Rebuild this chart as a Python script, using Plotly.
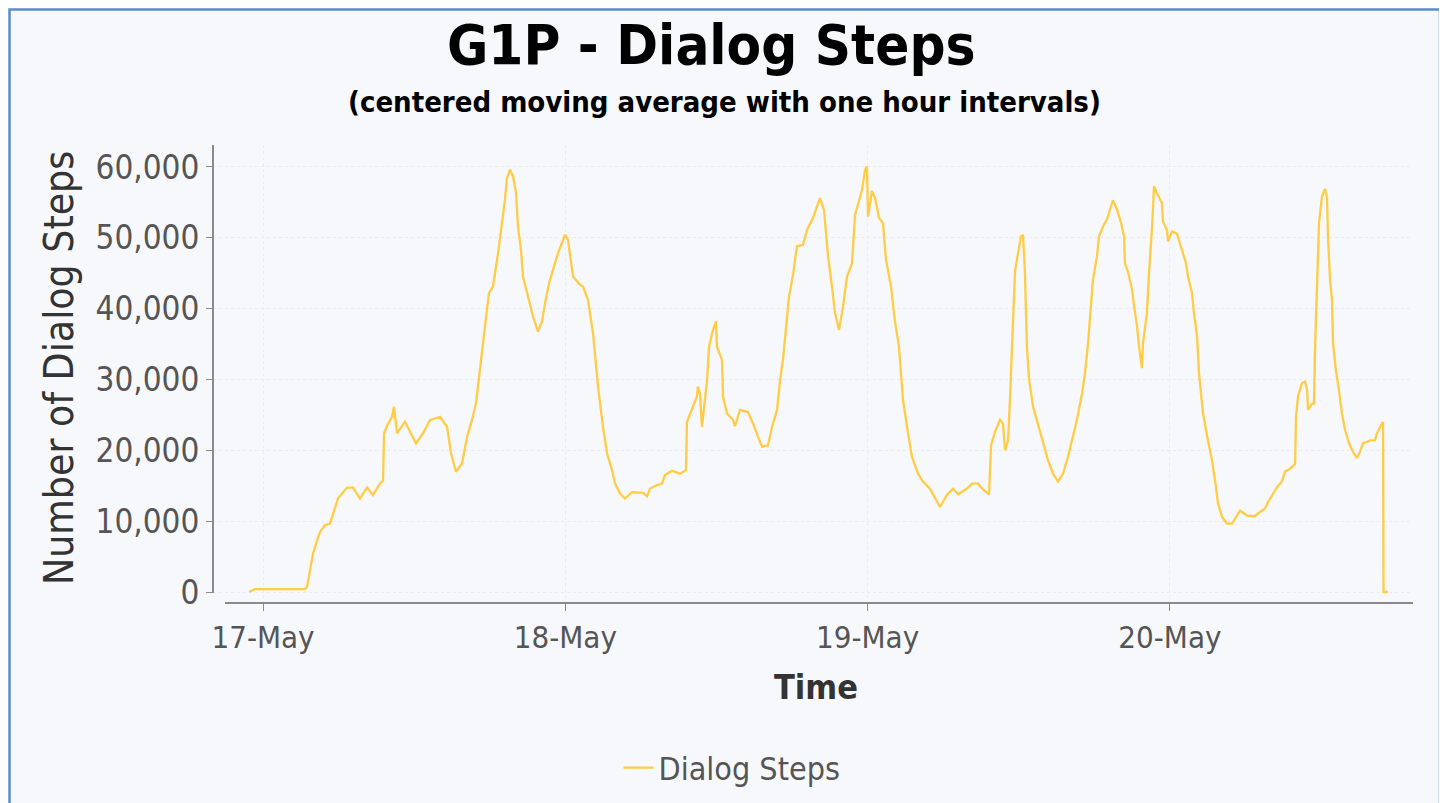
import pandas as pd
import plotly.graph_objects as go

# Hours since 17-May 00:00 and moving-average values of dialog steps
hours = [
    -1.11, -0.64, 3.33, 3.49, 3.73, 3.97, 4.29, 4.53, 4.92, 5.32, 5.95, 6.67, 7.15, 7.70, 8.26, 8.73,
    9.29, 9.53, 9.61, 9.84, 10.24, 10.40, 10.64, 11.27, 12.15, 12.70, 13.26, 14.05, 14.61, 14.93,
    15.32, 15.80, 16.20, 16.59, 16.91, 17.23, 17.62, 17.94, 18.26, 18.66, 18.97, 19.21, 19.37,
    19.61, 19.85, 20.09, 20.24, 20.48, 20.64, 21.04, 21.44, 21.83, 22.15, 22.39, 22.71, 23.02,
    23.42, 23.98, 24.21, 24.61, 25.17, 25.40, 25.80, 26.20, 26.60, 26.99, 27.31, 27.71, 27.95,
    28.34, 28.74, 29.30, 30.17, 30.49, 30.72, 31.28, 31.68, 31.91, 32.47, 33.10, 33.58, 33.66,
    34.05, 34.45, 34.53, 34.69, 34.85, 35.01, 35.25, 35.41, 35.65, 35.96, 36.04, 36.44, 36.52,
    36.84, 37.31, 37.47, 37.87, 38.50, 38.90, 39.30, 39.62, 40.09, 40.41, 40.81, 41.05, 41.28,
    41.52, 41.76, 42.08, 42.39, 42.87, 43.19, 43.66, 44.22, 44.54, 44.86, 45.17, 45.41, 45.73,
    46.05, 46.36, 46.76, 47.00, 47.24, 47.56, 47.79, 47.95, 48.03, 48.35, 48.59, 48.91, 49.22,
    49.46, 49.86, 50.17, 50.49, 50.81, 51.21, 51.52, 52.00, 52.40, 52.95, 53.75, 54.30, 54.78,
    55.18, 55.89, 56.29, 56.76, 57.16, 57.64, 57.80, 58.11, 58.51, 58.75, 58.91, 59.15, 59.30,
    59.54, 59.70, 59.94, 60.18, 60.34, 60.49, 60.65, 60.81, 61.13, 61.53, 61.92, 62.32, 62.72,
    63.12, 63.51, 63.91, 64.31, 64.62, 65.02, 65.26, 65.50, 65.74, 65.89, 66.21, 66.37, 66.69,
    67.01, 67.24, 67.48, 67.80, 68.12, 68.36, 68.43, 68.67, 68.99, 69.23, 69.39, 69.55, 69.78,
    69.86, 70.18, 70.34, 70.58, 70.74, 70.97, 71.37, 71.45, 71.77, 71.85, 72.17, 72.56, 72.80,
    73.04, 73.28, 73.44, 73.75, 73.91, 74.15, 74.31, 74.63, 75.02, 75.34, 75.58, 75.82, 76.14,
    76.53, 76.93, 77.17, 77.57, 78.12, 78.76, 79.15, 79.55, 79.79, 80.19, 80.50, 80.90, 81.14,
    81.54, 81.94, 82.01, 82.17, 82.49, 82.73, 82.89, 82.97, 83.28, 83.44, 83.52, 83.68, 83.84,
    84.07, 84.31, 84.47, 84.55, 84.71, 84.87, 84.95, 85.18, 85.42, 85.66, 85.90, 86.22, 86.53,
    86.85, 87.09, 87.33, 87.65, 87.89, 88.28, 88.44, 88.68, 88.92, 88.96, 89.31,
]
dialog_steps = [
    0, 400, 400, 700, 3060, 5420, 7300, 8480, 9430, 9660, 13200, 14750, 14750, 13200, 14750, 13670,
    15320, 15690, 22390, 23420, 24740, 26160, 22390, 24040, 20970, 22390, 24270, 24740, 23330, 19560,
    16970, 18150, 21920, 24270, 26630, 31810, 37470, 42180, 43120, 47840, 52080, 55380, 58440,
    59620, 58680, 56320, 51610, 48310, 44540, 41710, 38880, 36760, 38180, 40770, 43600, 45480,
    47840, 50430, 49720, 44540, 43360, 43120, 41240, 36530, 28980, 23330, 19600, 17200, 15300,
    13900, 13200, 14100, 14000, 13500, 14600, 15100, 15300, 16500, 17100, 16700, 17200, 24000,
    25700, 27600, 29000, 28000, 23300, 26200, 29900, 34600, 36500, 38200, 34600, 32800, 27600,
    25200, 24300, 23400, 25700, 25400, 23800, 21900, 20500, 20700, 23300, 25700, 29900, 32800,
    37000, 41700, 44800, 48800, 49000, 51100, 52800, 55600, 53900, 47400, 43100, 39400, 37000,
    40300, 44500, 46400, 53200, 54800, 56800, 59600, 60100, 53000, 56600, 55600, 52800, 52100,
    46900, 43100, 38200, 34600, 27100, 22400, 19100, 16700, 15600, 14600, 12000, 13700, 14600,
    13800, 14600, 15300, 15300, 14500, 13800, 20700, 22600, 24300, 23800, 20000, 21400, 27100,
    37000, 45200, 47800, 50200, 50400, 45000, 34600, 30200, 26200, 23800, 21200, 18600, 16700,
    15600, 16700, 19100, 21900, 24300, 28000, 30900, 35100, 40300, 44100, 47400, 50200, 51600,
    52600, 54000, 55300, 54000, 52100, 50200, 46400, 45200, 42700, 39400, 37500, 34600, 31600,
    35100, 39400, 45000, 51400, 57300, 56300, 54900, 52300, 51100, 49500, 50900, 50600, 49200,
    47600, 46400, 44500, 42200, 39400, 36100, 30900, 25200, 21400, 18600, 15800, 12500, 10600,
    9660, 9660, 10400, 11500, 10800, 10700, 11300, 11800, 12700, 13900, 14800, 15600, 17000,
    17400, 18100, 24700, 27600, 29500, 29700, 28500, 25700, 26600, 26600, 34200, 43100, 52100,
    55800, 56900, 55800, 50200, 44100, 41200, 35100, 31300, 28500, 25200, 22900, 21000, 19800,
    18900, 19800, 21000, 21200, 21400, 21400, 22400, 23300, 24000, 0, 0,
]
tick_dates = ["2016-05-17", "2016-05-18", "2016-05-19", "2016-05-20"]
tick_labels = ["17-May", "18-May", "19-May", "20-May"]
y_ticks = [0, 10000, 20000, 30000, 40000, 50000, 60000]

base = pd.Timestamp("2016-05-17 00:00")
times = base + pd.to_timedelta(hours, unit="h")
x_range = [base + pd.Timedelta(hours=-3.97), base + pd.Timedelta(hours=91.3)]

FONT = "DejaVu Sans Condensed, DejaVu Sans"
GREY = "#555555"
AXIS = "#8a8a8a"

# plot area in figure pixels: left 205, top 137, width 1200, height 458
PL, PT, PW, PH = 205, 137, 1200, 458

fig = go.Figure()
fig.add_trace(go.Scatter(
    x=times, y=dialog_steps, mode="lines", name="Dialog Steps",
    line=dict(color="#ffcc44", width=2.3),
))

fig.update_layout(
    width=1447, height=803,
    margin=dict(l=PL, r=1447 - PL - PW, t=PT, b=803 - PT - PH),
    paper_bgcolor="white",
    plot_bgcolor="rgba(0,0,0,0)",
    showlegend=True,
    legend=dict(orientation="h", x=0.4325, xanchor="center", y=-0.36, yanchor="middle",
                font=dict(family=FONT, size=32, color=GREY), bgcolor="rgba(0,0,0,0)"),
    xaxis=dict(
        type="date", range=x_range, tickvals=tick_dates, ticktext=tick_labels,
        showline=False, zeroline=False, ticks="outside", ticklen=7, tickcolor=AXIS,
        showgrid=True, gridcolor="#e9ecf2", griddash="dot", gridwidth=1,
        tickfont=dict(family=FONT, size=31, color=GREY),
    ),
    yaxis=dict(
        range=[-1550, 63100], tickvals=y_ticks, tickformat=",d",
        showline=False, zeroline=False, ticks="outside", ticklen=6, tickcolor=AXIS,
        showgrid=True, gridcolor="#e9ecf2", griddash="dot", gridwidth=1,
        tickfont=dict(family=FONT, size=33, color=GREY),
    ),
    shapes=[
        dict(type="rect", xref="paper", yref="paper",
             x0=(1.5 - PL) / PW, x1=(1432 - PL) / PW,
             y0=-0.45, y1=(PT + PH - 1.5) / PH,
             line=dict(color="#5b8ad0", width=2.5), fillcolor="#f7f8fc", layer="below"),
        dict(type="line", xref="paper", yref="paper", x0=0, x1=0, y0=(603 - 593) / 458, y1=1,
             line=dict(color=AXIS, width=2)),
        dict(type="line", xref="paper", yref="paper", x0=(225 - 213) / 1200, x1=1, y0=0, y1=0,
             line=dict(color=AXIS, width=2)),
    ],
    annotations=[
        dict(text="<b>G1P - Dialog Steps</b>", xref="paper", yref="paper",
             x=(711 - 213) / 1200, y=(603 - 45) / 458, xanchor="center", yanchor="middle",
             showarrow=False, font=dict(family=FONT, size=56, color="black")),
        dict(text="<b>(centered moving average with one hour intervals)</b>", xref="paper", yref="paper",
             x=(724 - 213) / 1200, y=(603 - 102) / 458, xanchor="center", yanchor="middle",
             showarrow=False, font=dict(family=FONT, size=29, color="black")),
        dict(text="Number of Dialog Steps", xref="paper", yref="paper",
             x=(59 - 213) / 1200, y=(603 - 368) / 458, xanchor="center", yanchor="middle",
             textangle=-90, showarrow=False, font=dict(family=FONT, size=40.5, color="#333333")),
        dict(text="<b>Time</b>", xref="paper", yref="paper",
             x=(816 - 213) / 1200, y=(603 - 687) / 458, xanchor="center", yanchor="middle",
             showarrow=False, font=dict(family=FONT, size=34, color="#333333")),
    ],
)

fig.write_html("out.html")
